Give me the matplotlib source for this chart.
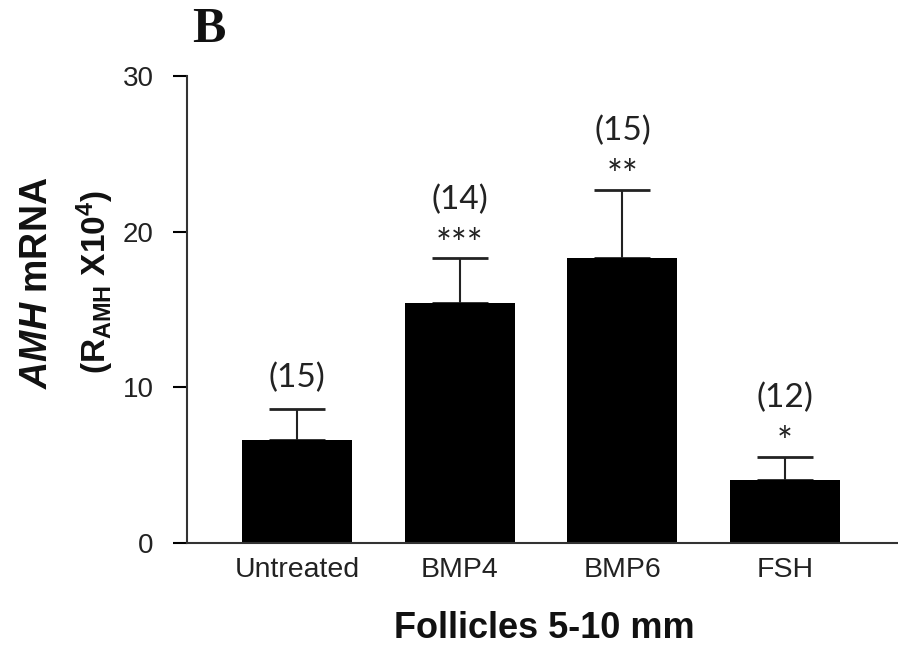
import matplotlib
matplotlib.use("Agg")
import matplotlib.pyplot as plt
import numpy as np

categories = ["Untreated", "BMP4", "BMP6", "FSH"]
means = [6.6, 15.4, 18.3, 4.05]
sems = [2.0, 2.9, 4.4, 1.5]
n_labels = ["(15)", "(14)", "(15)", "(12)"]
stars = ["", "***", "**", "*"]

plt.rcParams["mathtext.fontset"] = "custom"
plt.rcParams["mathtext.rm"] = "Liberation Sans:bold"
plt.rcParams["mathtext.it"] = "Liberation Sans:italic:bold"
plt.rcParams["mathtext.bf"] = "Liberation Sans:bold"

fig = plt.figure(figsize=(8.98, 6.48), dpi=100)
ax = fig.add_axes([187/898, 1-543/648, 1-187/898, (543-76)/648])

x = np.arange(len(categories))
ax.bar(x, means, width=0.676, color="black", zorder=2)
ax.errorbar(x, means, yerr=[np.zeros(len(means)), sems], fmt="none",
            ecolor="#222222", elinewidth=1.5, capsize=20, capthick=2.0, zorder=1)

ax.set_xlim(-0.676, 3.694)
ax.set_ylim(0, 30)
ax.set_yticks([0, 10, 20, 30])
ax.set_xticks(x)
ax.set_xticklabels(categories, family="Liberation Sans", fontsize=20.5, color="#222222")
ax.tick_params(axis="x", length=0, pad=10)
ax.tick_params(axis="y", length=10, width=1.5, pad=14, direction="out",
               labelsize=20, labelcolor="#222222")
for lab in ax.get_yticklabels():
    lab.set_family("Liberation Sans")
for s in ["top", "right"]:
    ax.spines[s].set_visible(False)
for s in ["left", "bottom"]:
    ax.spines[s].set_linewidth(1.5)
    ax.spines[s].set_color("#333333")

for xi, m, e, nl, st in zip(x, means, sems, n_labels, stars):
    top = m + e
    if st:
        ax.text(xi, top + 0.8, st, ha="center", va="center", family="Lato",
                fontsize=27, color="#222222")
        ax.text(xi, top + 3.75, nl, ha="center", va="center", family="Lato",
                fontsize=24, color="#222222")
    else:
        ax.text(xi, top + 2.0, nl, ha="center", va="center", family="Lato",
                fontsize=24, color="#222222")

fig.text(544/898, 1-628/648, "Follicles 5-10 mm", ha="center", va="center",
         family="Liberation Sans", fontweight="bold", fontsize=26, color="#111111")

fig.text(37/898, 1-283/648, r"$\mathit{AMH}$ mRNA", rotation=90, ha="center", va="center",
         family="Liberation Sans", fontweight="bold", fontsize=27, color="#111111")
fig.text(95/898, 1-282/648, r"(R$_{\mathrm{AMH}}$ X10$^{\mathrm{4}}$)", rotation=90,
         ha="center", va="center", family="Liberation Sans", fontweight="bold",
         fontsize=24, color="#111111")

fig.text(209/898, 1-30/648, "B", ha="center", va="center", family="Liberation Serif",
         fontweight="bold", fontsize=36, color="#111111")

fig.savefig("out.png", dpi=100)
